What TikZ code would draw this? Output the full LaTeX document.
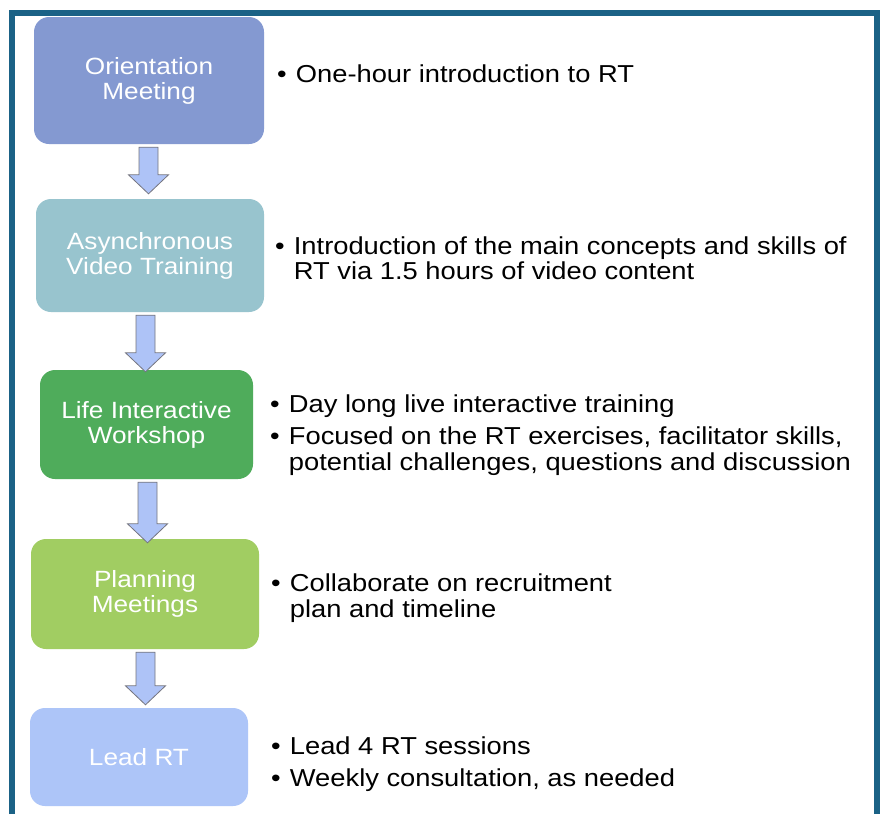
\documentclass[tikz,border=0pt]{standalone}
\usepackage{fontspec}
\setmainfont{Liberation Sans}[FakeStretch=1.115]
\usetikzlibrary{calc}

\definecolor{framecol}{HTML}{1B6286}
\definecolor{stageA}{HTML}{8499D1}
\definecolor{stageB}{HTML}{98C4CE}
\definecolor{stageC}{HTML}{4FAC5B}
\definecolor{stageD}{HTML}{A1CD62}
\definecolor{stageE}{HTML}{ADC5F8}
\definecolor{arrowfill}{HTML}{AEC3F7}
\definecolor{arrowline}{HTML}{75757F}

% block arrow from the bottom of #1 to the top of #2, centred at x = #3 (pt);
% #4 = gap between the tip and the top of #2 (pt)
\newcommand{\flowarrow}[4]{%
  \draw[blockarrow] let \p1=(#1.south), \p2=(#2.north) in
    (#3pt-9.5pt,\y1-3pt) -- (#3pt+9.5pt,\y1-3pt) -- (#3pt+9.5pt,\y2+#4pt+19pt)
    -- (#3pt+20pt,\y2+#4pt+19pt) -- (#3pt,\y2+#4pt) -- (#3pt-20pt,\y2+#4pt+19pt)
    -- (#3pt-9.5pt,\y2+#4pt+19pt) -- cycle;}

% bullet item: first line, then optional continuation lines
\newcommand{\bulletlines}[1]{%
  \begin{tabular}[t]{@{}p{18.7pt}@{}l@{}}#1\end{tabular}}

\begin{document}
\begin{tikzpicture}[x=1pt,y=-1pt,
  stage/.style={rounded corners=15pt, text=white, align=center, inner sep=0pt,
    font=\fontsize{23.5}{25}\selectfont},
  item/.style={anchor=base west, inner sep=0pt,
    font=\fontsize{24.5}{25.5}\selectfont},
  blockarrow/.style={fill=arrowfill, draw=arrowline, line width=0.8pt, line join=miter}]

\useasboundingbox (0,0) rectangle (882,814);
\fill[white] (0,0) rectangle (882,814);

% outer frame
\draw[framecol, line width=6pt, line join=miter] (12,814) -- (12,13) -- (877,13) -- (877,814);

% stages
\node[stage, fill=stageA, minimum width=230pt, minimum height=127pt] (s1) at (149,80.5) {Orientation\\Meeting};
\node[stage, fill=stageB, minimum width=228pt, minimum height=113pt] (s2) at (150,255.5) {Asynchronous\\Video Training};
\node[stage, fill=stageC, minimum width=213pt, minimum height=109pt] (s3) at (146.5,424.5) {Life Interactive\\Workshop};
\node[stage, fill=stageD, minimum width=228pt, minimum height=110pt] (s4) at (145,594) {Planning\\Meetings};
\node[stage, fill=stageE, minimum width=218pt, minimum height=98pt] (s5) at (139,757) {Lead RT};

% arrows between stages
\flowarrow{s1}{s2}{148.5}{5}
\flowarrow{s2}{s3}{145.5}{-2}
\flowarrow{s3}{s4}{147.5}{-4}
\flowarrow{s4}{s5}{145.5}{3}

% descriptions
\node[item] (d1) at (277,82) {\bulletlines{\textbullet & One-hour introduction to RT}};
\node[item] (d2) at (275,254) {\bulletlines{\textbullet & Introduction of the main concepts and skills of\\ & RT via 1.5 hours of video content}};
\node[item] (d3a) at (270,412) {\bulletlines{\textbullet & Day long live interactive training}};
\node[item] (d3b) at (270,444.5) {\bulletlines{\textbullet & Focused on the RT exercises, facilitator skills,\\ & potential challenges, questions and discussion}};
\node[item] (d4) at (271,591.5) {\bulletlines{\textbullet & Collaborate on recruitment\\ & plan and timeline}};
\node[item] (d5a) at (271,754) {\bulletlines{\textbullet & Lead 4 RT sessions}};
\node[item] (d5b) at (271,786) {\bulletlines{\textbullet & Weekly consultation, as needed}};

\end{tikzpicture}
\end{document}
